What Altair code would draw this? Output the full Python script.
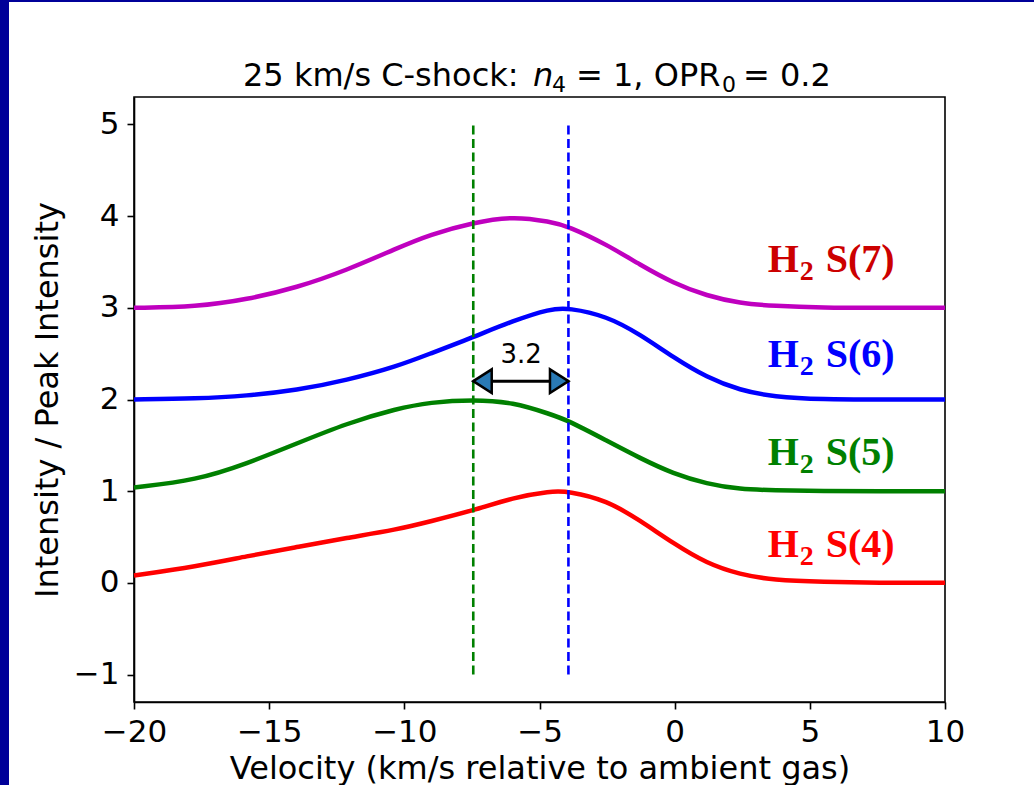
import altair as alt
import pandas as pd

# ---- data ----
velocity = [-20, -17.68, -15.83, -13.98, -12.13, -10.28, -9.05, -7.45, -5.97, -4.6,
            -3.93, -2.51, -1.28, -0.05, 1.19, 2.42, 3.65, 5.5, 7.5, 10]
s4 = [0.08, 0.18, 0.29, 0.39, 0.49, 0.58, 0.67, 0.79, 0.93, 1.00,
      1.00, 0.90, 0.68, 0.43, 0.21, 0.09, 0.03, 0.01, 0.00, 0.00]
s5 = [1.04, 1.12, 1.30, 1.52, 1.74, 1.90, 1.97, 2.00, 1.97, 1.84,
      1.77, 1.55, 1.36, 1.19, 1.08, 1.02, 1.01, 1.00, 1.00, 1.00]
s6 = [2.00, 2.01, 2.04, 2.10, 2.21, 2.36, 2.50, 2.68, 2.86, 2.99,
      3.00, 2.91, 2.71, 2.46, 2.24, 2.10, 2.03, 2.00, 2.00, 2.00]
s7 = [3.00, 3.01, 3.09, 3.22, 3.41, 3.65, 3.80, 3.93, 4.00, 3.94,
      3.89, 3.69, 3.47, 3.27, 3.13, 3.05, 3.02, 3.00, 3.00, 3.00]

series_names = ["S(4)", "S(5)", "S(6)", "S(7)"]
series_values = [s4, s5, s6, s7]
series_colors = ["#ff0000", "#008000", "#0000ff", "#bf00bf"]
label_colors = ["#ff0000", "#008000", "#0000ff", "#cc0000"]
label_y = [0.28, 1.29, 2.35, 3.39]
label_x = 3.44

vline_x = [-7.45, -3.93]
vline_colors = ["#008000", "#0000ff"]
vline_ymin = -1
vline_ymax = 5

arrow_y = 2.2
arrow_text = "3.2"
arrow_text_x = -5.68
arrow_text_y = 2.40

x_ticks = [-20, -15, -10, -5, 0, 5, 10]
y_ticks = [-1, 0, 1, 2, 3, 4, 5]
x_domain = [-20, 10]
y_domain = [-1.3, 5.3]

# title pieces: (text, style, size, offset from start in px, baseline shift)
title_parts = ["25 km/s C-shock:", "n", "4", "= 1, OPR", "0", "= 0.2"]
title_styles = ["normal", "italic", "normal", "normal", "normal", "normal"]
title_sizes = [32, 32, 22, 32, 22, 32]
title_offsets = [0, 290, 309, 333, 479, 500]
title_dy = [0, 0, 6, 0, 6, 0]
title_start = 109

x_title = "Velocity (km/s relative to ambient gas)"
y_title = "Intensity / Peak Intensity"

# ---- tables ----
rows = []
for name, vals in zip(series_names, series_values):
    for v, y in zip(velocity, vals):
        rows.append({"v": v, "y": y, "series": name})
lines_df = pd.DataFrame(rows)

vlines_df = pd.DataFrame({"v": vline_x, "y1": [vline_ymin] * 2, "y2": [vline_ymax] * 2,
                          "color": vline_colors})
arrow_df = pd.DataFrame({"v": [vline_x[0]], "x2": [vline_x[1]], "y": [arrow_y]})
heads_df = pd.DataFrame({"v": vline_x, "y": [arrow_y] * 2,
                         "shape": ["M 0 0 L 1.56 -1 L 1.56 1 Z", "M 0 0 L -1.56 -1 L -1.56 1 Z"]})
arrow_lbl_df = pd.DataFrame({"v": [arrow_text_x], "y": [arrow_text_y], "t": [arrow_text]})
labels_df = pd.DataFrame({"v": [label_x] * 4, "y": label_y, "name": series_names,
                          "color": label_colors})

xs = alt.Scale(domain=x_domain, nice=False, zero=False)
ys = alt.Scale(domain=y_domain, nice=False, zero=False)
x_axis = alt.Axis(values=x_ticks, title=x_title, titlePadding=6, labelFlush=False)
y_axis = alt.Axis(values=y_ticks, title=y_title, titlePadding=9, labelFlush=False)
X = alt.X("v:Q", scale=xs, axis=x_axis, title=x_title)
Y = alt.Y("y:Q", scale=ys, axis=y_axis, title=y_title)

lines = alt.Chart(lines_df).mark_line(strokeWidth=4.5, interpolate="basis").encode(
    x=X, y=Y,
    color=alt.Color("series:N", scale=alt.Scale(domain=series_names, range=series_colors), legend=None),
    detail="series:N",
)

vlines = alt.Chart(vlines_df).mark_rule(strokeWidth=2.6, strokeDash=[9, 4.5]).encode(
    x=X,
    y=alt.Y("y1:Q", scale=ys, axis=y_axis, title=y_title),
    y2="y2:Q",
    color=alt.Color("color:N", scale=None),
)

arrow = alt.Chart(arrow_df).mark_rule(strokeWidth=3, color="black").encode(
    x=X, x2="x2:Q", y=Y,
)

heads = alt.Chart(heads_df).mark_point(filled=True, fill="#2a7ab5", stroke="black",
                                       strokeWidth=2.5, size=560, opacity=1).encode(
    x=X, y=Y,
    shape=alt.Shape("shape:N", scale=None),
)

arrow_lbl = alt.Chart(arrow_lbl_df).mark_text(font="DejaVu Sans", fontSize=26, color="black",
                                              align="center", baseline="alphabetic").encode(
    x=X, y=Y, text="t:N",
)

lab_base = alt.Chart(labels_df).encode(
    x=X, y=Y, color=alt.Color("color:N", scale=None),
)
lab_h = lab_base.mark_text(font="Liberation Serif", fontWeight="bold", fontSize=40,
                           align="left", baseline="alphabetic").encode(text=alt.value("H"))
lab_2 = lab_base.mark_text(font="Liberation Serif", fontWeight="bold", fontSize=28,
                           align="left", baseline="alphabetic", dx=32, dy=8).encode(text=alt.value("2"))
lab_s = lab_base.mark_text(font="Liberation Serif", fontWeight="bold", fontSize=40,
                           align="left", baseline="alphabetic", dx=58).encode(text="name:N")

deco_df = pd.DataFrame({"k": [0]})
border_left = alt.Chart(deco_df).mark_rect(color="#000099").encode(
    x=alt.value(-134), x2=alt.value(-125), y=alt.value(-97), y2=alt.value(688))
border_top = alt.Chart(deco_df).mark_rect(color="#000099").encode(
    x=alt.value(-134), x2=alt.value(900), y=alt.value(-97), y2=alt.value(-95))

title_layers = []
for txt, sty, size, off, dy in zip(title_parts, title_styles, title_sizes, title_offsets, title_dy):
    title_layers.append(
        alt.Chart(deco_df).mark_text(font="DejaVu Sans", fontSize=size, fontStyle=sty,
                                     color="black", align="left", baseline="alphabetic",
                                     dy=dy).encode(
            x=alt.value(title_start + off), y=alt.value(-11), text=alt.value(txt))
    )

chart = alt.layer(
    lines, vlines, arrow, heads, arrow_lbl, lab_h, lab_2, lab_s,
    border_left, border_top, *title_layers
).properties(
    width=811,
    height=605,
    autosize=alt.AutoSizeParams(type="none"),
    padding={"left": 134, "top": 97, "right": 89, "bottom": 83},
    background="white",
).configure_view(
    stroke="black", strokeWidth=1.6
).configure_axis(
    grid=False, domainColor="black", domainWidth=1.6, tickColor="black", tickWidth=1.6,
    tickSize=7, labelFont="DejaVu Sans", labelFontSize=31, labelColor="black", labelPadding=8,
    titleFont="DejaVu Sans", titleFontSize=32, titleFontWeight="normal", titleColor="black",
)

chart.save("out.html", embed_options={"renderer": "svg", "actions": False})
